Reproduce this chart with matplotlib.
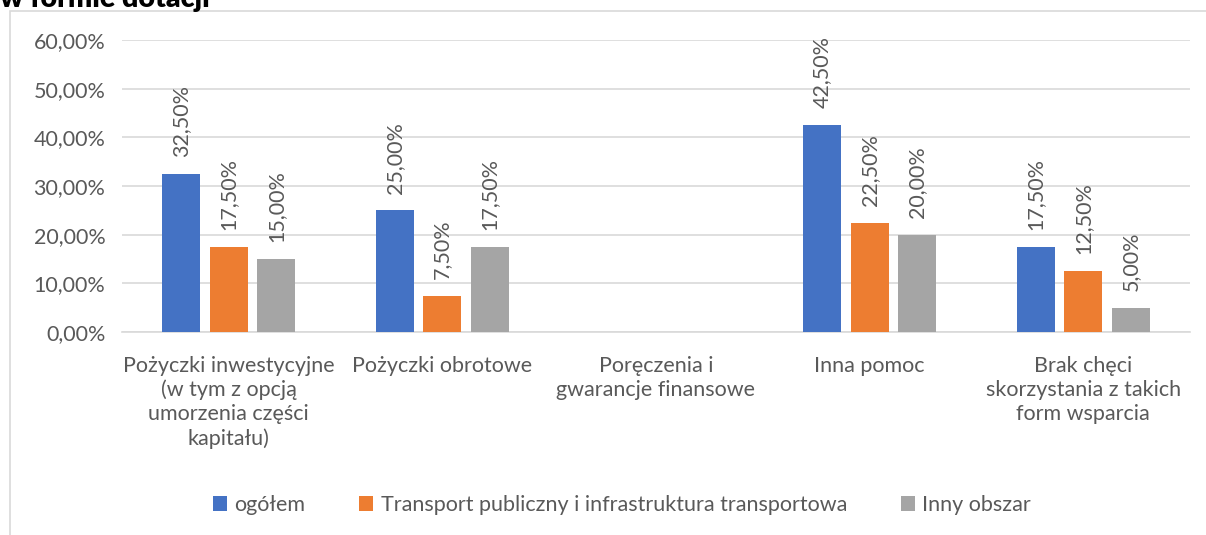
import matplotlib.pyplot as plt
import numpy as np
from matplotlib.patches import Rectangle

categories = [
    "Pożyczki inwestycyjne\n(w tym z opcją\numorzenia części\nkapitału)",
    "Pożyczki obrotowe",
    "Poręczenia i\ngwarancje finansowe",
    "Inna pomoc",
    "Brak chęci\nskorzystania z takich\nform wsparcia",
]
series_names = ["ogółem", "Transport publiczny i infrastruktura transportowa", "Inny obszar"]
ogolem = [0.325, 0.25, np.nan, 0.425, 0.175]
transport = [0.175, 0.075, np.nan, 0.225, 0.125]
inny = [0.15, 0.175, np.nan, 0.20, 0.05]
colors = ["#4472C4", "#ED7D31", "#A5A5A5"]
yticks = [0, 0.1, 0.2, 0.3, 0.4, 0.5, 0.6]

TXT = "#595959"
FONT = "Lato"
FS = 15.5

W, H = 1206, 535
fig = plt.figure(figsize=(W / 100, H / 100), dpi=100)
ax = fig.add_axes([122 / W, 1 - 332 / H, (1190 - 122) / W, (332 - 40) / H])

# chart border (only top and left edges show in the crop)
fig.patches.append(Rectangle((10 / W, -0.05), 1.0, 1.05 - 11 / H,
                             transform=fig.transFigure, fill=False,
                             edgecolor="#D9D9D9", linewidth=1.2))
# title, cut off at the top like in the source screenshot
fig.text(0, 1 - 7 / H, "w formie dotacji", fontsize=20.5, fontweight="heavy",
         family=FONT, va="baseline", ha="left", color="black")

x = np.arange(len(categories))
bw = 0.178
step = 0.222
for i, (vals, name) in enumerate(zip([ogolem, transport, inny], series_names)):
    pos = x + (i - 1) * step
    ax.bar(pos, vals, width=bw, color=colors[i], label=name, zorder=3)
    for p, v in zip(pos, vals):
        if np.isnan(v):
            continue
        lbl = f"{v * 100:.2f}%".replace(".", ",")
        ax.annotate(lbl, (p, v), xytext=(0, 12), textcoords="offset points",
                    rotation=90, ha="center", va="bottom", fontsize=FS,
                    family=FONT, color=TXT)

ax.set_xlim(-0.5, len(categories) - 0.5)
ax.set_ylim(0, 0.6)
ax.set_yticks(yticks)
ax.set_yticklabels([f"{t * 100:.2f}%".replace(".", ",") for t in yticks],
                   fontsize=FS, family=FONT, color=TXT)
ax.set_xticks(x)
ax.set_xticklabels(categories, fontsize=FS, family=FONT, color=TXT, linespacing=1.25)
ax.tick_params(axis="both", length=0)
ax.tick_params(axis="y", pad=12)
ax.tick_params(axis="x", pad=17)
ax.grid(axis="y", color="#D9D9D9", linewidth=1.2, zorder=0)
for s in ["top", "right", "left"]:
    ax.spines[s].set_visible(False)
ax.spines["bottom"].set_color("#D9D9D9")
ax.spines["bottom"].set_linewidth(1.2)

fig.legend(loc="center", bbox_to_anchor=(622 / W, 1 - 505 / H), ncol=3,
           frameon=False, prop={"family": FONT, "size": FS},
           handlelength=0.65, handleheight=0.65, handletextpad=0.35,
           columnspacing=2.5, labelcolor=TXT)

fig.savefig("out.png", dpi=100)
